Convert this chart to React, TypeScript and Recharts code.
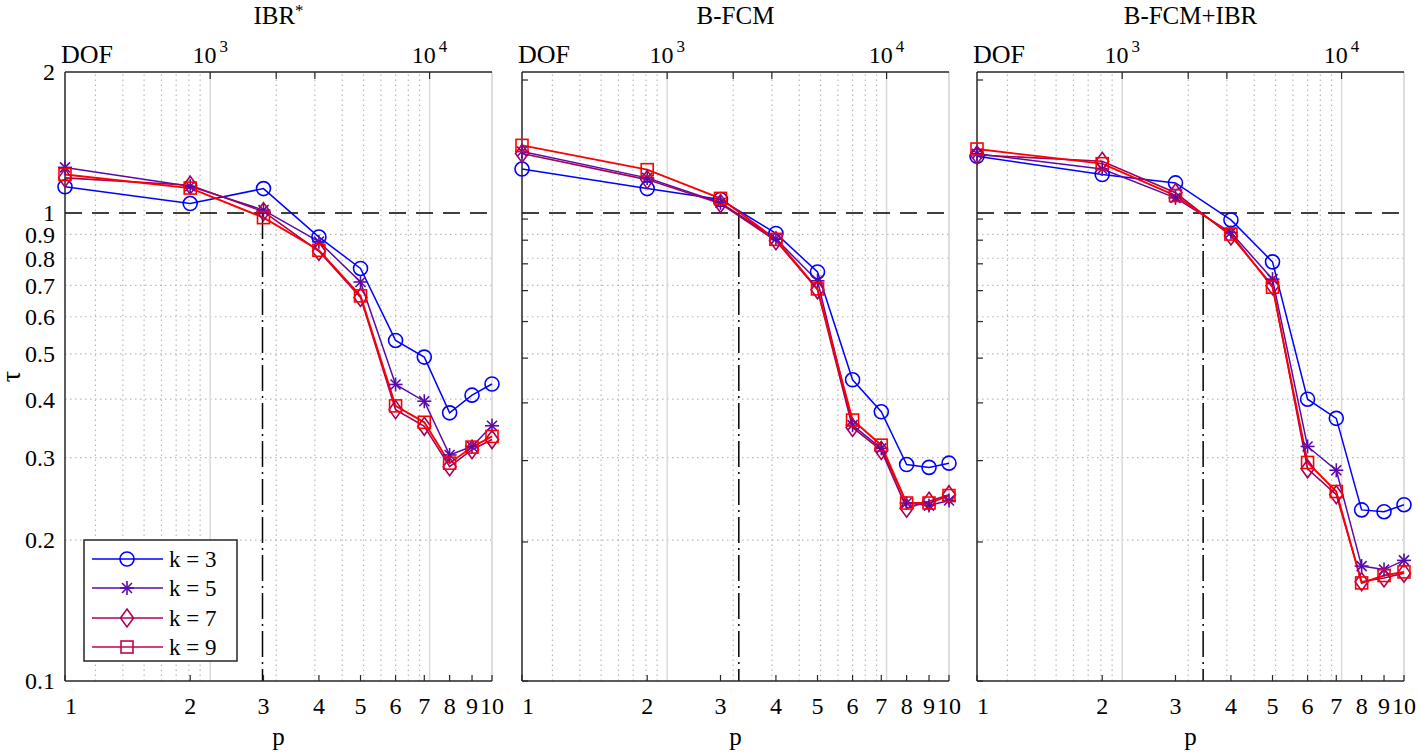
import React from 'react';
import { LineChart, Line, XAxis, YAxis, ReferenceLine } from 'recharts';

// ---------------- data ----------------
const P = [1, 2, 3, 4, 5, 6, 7, 8, 9, 10];
const DOF = [218, 811, 1750, 3131, 4844, 6998, 9459, 12340, 15610, 19250];
const DOF_TOP_TICKS = [1000, 2000, 3000, 10000];
const DOF_TOP_LABELLED = [1000, 10000];
const DOF_GRID_MINOR = [300, 400, 500, 600, 700, 800, 900, 2000, 3000, 4000, 5000, 6000, 7000, 8000, 9000];
const DOF_GRID_MAJOR = [1000, 10000];
const TAU_TICKS = [0.1, 0.2, 0.3, 0.4, 0.5, 0.6, 0.7, 0.8, 0.9, 1, 2];
const TAU_GRID = [0.2, 0.3, 0.4, 0.5, 0.6, 0.7, 0.8, 0.9];
const TAU_DOMAIN = [0.1, 2];
const TAU_REF = 1;

const TITLES = ['IBR', 'B-FCM', 'B-FCM+IBR'];
const TITLE_SUP = ['*', '', ''];
const CROSS_DOF = [1732, 2121, 2339];
const K_LABELS = ['k = 3', 'k = 5', 'k = 7', 'k = 9'];

const IBR_K3 = [1.137, 1.047, 1.127, 0.888, 0.761, 0.534, 0.492, 0.374, 0.408, 0.431];
const IBR_K5 = [1.251, 1.14, 1.014, 0.868, 0.712, 0.43, 0.396, 0.304, 0.317, 0.351];
const IBR_K7 = [1.188, 1.146, 1.006, 0.828, 0.66, 0.38, 0.35, 0.287, 0.312, 0.328];
const IBR_K9 = [1.208, 1.13, 0.977, 0.832, 0.665, 0.387, 0.357, 0.292, 0.316, 0.333];

const BFCM_K3 = [1.241, 1.127, 1.068, 0.904, 0.748, 0.44, 0.376, 0.29, 0.286, 0.292];
const BFCM_K5 = [1.353, 1.188, 1.051, 0.88, 0.716, 0.352, 0.314, 0.24, 0.237, 0.243];
const BFCM_K7 = [1.34, 1.178, 1.047, 0.872, 0.685, 0.348, 0.311, 0.234, 0.242, 0.25];
const BFCM_K9 = [1.394, 1.237, 1.074, 0.878, 0.688, 0.361, 0.319, 0.24, 0.24, 0.249];

const BFCMIBR_K3 = [1.321, 1.208, 1.159, 0.966, 0.786, 0.4, 0.364, 0.232, 0.23, 0.238];
const BFCMIBR_K5 = [1.338, 1.241, 1.077, 0.908, 0.722, 0.317, 0.282, 0.176, 0.173, 0.181];
const BFCMIBR_K7 = [1.33, 1.289, 1.104, 0.893, 0.699, 0.284, 0.25, 0.163, 0.166, 0.17];
const BFCMIBR_K9 = [1.369, 1.274, 1.089, 0.901, 0.694, 0.293, 0.254, 0.162, 0.168, 0.171];

const PANEL_SERIES = [
  [IBR_K3, IBR_K5, IBR_K7, IBR_K9],
  [BFCM_K3, BFCM_K5, BFCM_K7, BFCM_K9],
  [BFCMIBR_K3, BFCMIBR_K5, BFCMIBR_K7, BFCMIBR_K9],
];

// ---------------- styles / layout ----------------
const FONT = '"Liberation Serif", "DejaVu Serif", serif';
const AXIS = '#262626';
const GRID = '#b8b8b8';
const COLORS = ['#0000ff', '#5a0aaa', '#a5005a', '#ff0000'];
const LEGEND_COLORS = ['#0000ff', '#5a0aaa', '#b00058', '#c8004b'];
const WIDTHS = [1.5, 1.5, 1.6, 1.9];
const KEYS = ['k3', 'k5', 'k7', 'k9'];

const W = 1419;
const H = 753;
const PLOT_TOP = 72;
const PLOT_BOTTOM = 681;
const PLOT_W = 427;
const PANEL_LEFTS = [65, 522, 977];
const YAXIS_W = 65;

// ---------------- markers ----------------
function drawMarker(kind: number, cx: number, cy: number, color: string, key?: any) {
  if (kind === 0) return <circle key={key} cx={cx} cy={cy} r={7} fill="none" stroke={color} strokeWidth={1.6} />;
  if (kind === 1) {
    const a = 7;
    const d = 5;
    return (
      <g key={key} stroke={color} strokeWidth={1.6}>
        <line x1={cx} y1={cy - a} x2={cx} y2={cy + a} />
        <line x1={cx - a} y1={cy} x2={cx + a} y2={cy} />
        <line x1={cx - d} y1={cy - d} x2={cx + d} y2={cy + d} />
        <line x1={cx - d} y1={cy + d} x2={cx + d} y2={cy - d} />
      </g>
    );
  }
  if (kind === 2)
    return (
      <polygon
        key={key}
        points={`${cx},${cy - 9} ${cx + 6.5},${cy} ${cx},${cy + 9} ${cx - 6.5},${cy}`}
        fill="none"
        stroke={color}
        strokeWidth={1.6}
      />
    );
  return <rect key={key} x={cx - 6} y={cy - 6} width={12} height={12} fill="none" stroke={color} strokeWidth={1.6} />;
}

const makeDot = (kind: number, color: string) => (props: any) => {
  const { cx, cy, index } = props;
  if (cx == null || cy == null) return <g key={`e${index}`} />;
  return drawMarker(kind, cx, cy, color, `d${index}`);
};

// ---------------- ticks ----------------
function BottomTick(props: any) {
  const { x, y, payload, index } = props;
  const i = DOF.indexOf(payload.value);
  const label = i >= 0 ? String(P[i]) : '';
  return (
    <g>
      <line x1={x} x2={x} y1={y} y2={y - 6} stroke={AXIS} strokeWidth={1.2} />
      <text x={index === 0 ? x + 6 : x} y={y + 33} textAnchor="middle" fontFamily={FONT} fontSize={24} fill="#000">
        {label}
      </text>
    </g>
  );
}

function TopTick(props: any) {
  const { x, y, payload } = props;
  const v = payload.value;
  const labelled = DOF_TOP_LABELLED.includes(v);
  return (
    <g>
      <line x1={x} x2={x} y1={y} y2={y + 7} stroke={AXIS} strokeWidth={1.2} />
      {labelled && (
        <text x={x} y={y - 9} textAnchor="middle" fontFamily={FONT} fontSize={24} fill="#000">
          10
          <tspan dx={3} dy={-11} fontSize={17}>
            {String(Math.round(Math.log10(v)))}
          </tspan>
        </text>
      )}
    </g>
  );
}

function LeftTickLabel(props: any) {
  const { x, y, payload } = props;
  return (
    <text x={x - 10} y={y} dy="0.35em" textAnchor="end" fontFamily={FONT} fontSize={24} fill="#000">
      {String(payload.value)}
    </text>
  );
}

function LeftTickInward(props: any) {
  const { x, y } = props;
  const off = (8 * (PLOT_BOTTOM - y)) / (PLOT_BOTTOM - PLOT_TOP);
  return <line x1={x} x2={x + 6} y1={y + off} y2={y + off} stroke={AXIS} strokeWidth={1.2} />;
}

// ---------------- panel ----------------
function Panel({ index }: { index: number }) {
  const series = PANEL_SERIES[index];
  const rows = P.map((p, i) => ({
    p,
    dof: DOF[i],
    k3: series[0][i],
    k5: series[1][i],
    k7: series[2][i],
    k9: series[3][i],
  }));
  const cross = CROSS_DOF[index];
  const domainX = [DOF[0], DOF[DOF.length - 1]];
  return (
    <div style={{ position: 'absolute', left: PANEL_LEFTS[index] - YAXIS_W, top: 0 }}>
      <LineChart
        width={YAXIS_W + PLOT_W + 20}
        height={H}
        data={rows}
        margin={{ top: PLOT_TOP - 30, right: 20, bottom: H - PLOT_BOTTOM - 40, left: 0 }}
      >
        <XAxis
          xAxisId="b"
          dataKey="dof"
          type="number"
          scale="log"
          domain={domainX}
          ticks={DOF}
          interval={0}
          tickSize={0}
          tickMargin={0}
          tickLine={false}
          tick={<BottomTick />}
          height={40}
          axisLine={{ stroke: AXIS, strokeWidth: 1.5 }}
        />
        <XAxis
          xAxisId="t"
          dataKey="dof"
          orientation="top"
          type="number"
          scale="log"
          domain={domainX}
          allowDataOverflow
          ticks={DOF_TOP_TICKS}
          interval={0}
          tickSize={0}
          tickMargin={0}
          tickLine={false}
          tick={<TopTick />}
          height={30}
          axisLine={{ stroke: AXIS, strokeWidth: 1.5 }}
        />
        <YAxis
          type="number"
          scale="log"
          domain={TAU_DOMAIN}
          ticks={TAU_TICKS}
          interval={0}
          tickSize={0}
          tickMargin={0}
          tickLine={false}
          width={YAXIS_W}
          tick={index === 0 ? <LeftTickLabel /> : <LeftTickInward />}
          axisLine={{ stroke: AXIS, strokeWidth: 1.5 }}
        />
        {TAU_GRID.map((v) => (
          <ReferenceLine key={`gy${v}`} xAxisId="b" y={v} stroke={GRID} strokeWidth={1.2} strokeDasharray="1.5 3.5" />
        ))}
        {DOF_GRID_MINOR.map((v) => (
          <ReferenceLine key={`gx${v}`} xAxisId="b" x={v} stroke={GRID} strokeWidth={1.2} strokeDasharray="1.5 3.5" />
        ))}
        {DOF_GRID_MAJOR.map((v) => (
          <ReferenceLine key={`gM${v}`} xAxisId="b" x={v} stroke="#dadada" strokeWidth={1.5} />
        ))}
        <ReferenceLine xAxisId="b" x={DOF[DOF.length - 1]} stroke="#d2d2d2" strokeWidth={1.5} />
        <ReferenceLine xAxisId="b" y={TAU_REF} stroke="#000" strokeWidth={1.5} strokeDasharray="17 10" />
        <ReferenceLine
          xAxisId="b"
          segment={[
            { x: cross, y: TAU_REF },
            { x: cross, y: TAU_DOMAIN[0] },
          ]}
          stroke="#000"
          strokeWidth={1.5}
          strokeDasharray="26 5 2 5"
        />
        {KEYS.map((k, i) => (
          <Line
            key={k}
            xAxisId="b"
            type="linear"
            dataKey={k}
            stroke={COLORS[i]}
            strokeWidth={WIDTHS[i]}
            dot={makeDot(i, COLORS[i])}
            activeDot={false}
            isAnimationActive={false}
          />
        ))}
      </LineChart>
    </div>
  );
}

function Overlay() {
  const midY = (PLOT_TOP + PLOT_BOTTOM) / 2;
  return (
    <svg width={W} height={H} style={{ position: 'absolute', left: 0, top: 0 }}>
      {PANEL_LEFTS.map((l, i) => (
        <g key={i} fontFamily={FONT} fill="#000">
          <text x={l + PLOT_W / 2} y={24} textAnchor="middle" fontSize={25}>
            {TITLES[i]}
            {TITLE_SUP[i] ? (
              <tspan dy={-8} fontSize={17}>
                {TITLE_SUP[i]}
              </tspan>
            ) : null}
          </text>
          <text x={l - 4} y={63} fontSize={26}>
            DOF
          </text>
          <text x={l + PLOT_W / 2} y={745} textAnchor="middle" fontSize={25}>
            p
          </text>
        </g>
      ))}
      <text
        x={20}
        y={midY}
        textAnchor="middle"
        fontFamily={FONT}
        fontSize={28}
        transform={`rotate(-90 20 ${midY})`}
      >
        τ
      </text>
    </svg>
  );
}

function LegendBox() {
  const x0 = 84;
  const y0 = 540;
  const rows = [559, 588, 618, 647];
  return (
    <svg width={W} height={H} style={{ position: 'absolute', left: 0, top: 0, pointerEvents: 'none' }}>
      <rect x={x0} y={y0} width={153} height={121} fill="#fff" stroke={AXIS} strokeWidth={1.5} />
      {K_LABELS.map((lab, i) => (
        <g key={lab}>
          <line x1={92} x2={163} y1={rows[i]} y2={rows[i]} stroke={LEGEND_COLORS[i]} strokeWidth={1.5} />
          {drawMarker(i, 127, rows[i], LEGEND_COLORS[i])}
          <text x={169} y={rows[i] + 8} fontFamily={FONT} fontSize={23} fill="#000">
            {lab}
          </text>
        </g>
      ))}
    </svg>
  );
}

export default function App() {
  return (
    <div style={{ position: 'absolute', left: 0, top: 0, width: W, height: H, background: '#fff' }}>
      <Overlay />
      {PANEL_LEFTS.map((_, i) => (
        <Panel key={i} index={i} />
      ))}
      <LegendBox />
    </div>
  );
}
